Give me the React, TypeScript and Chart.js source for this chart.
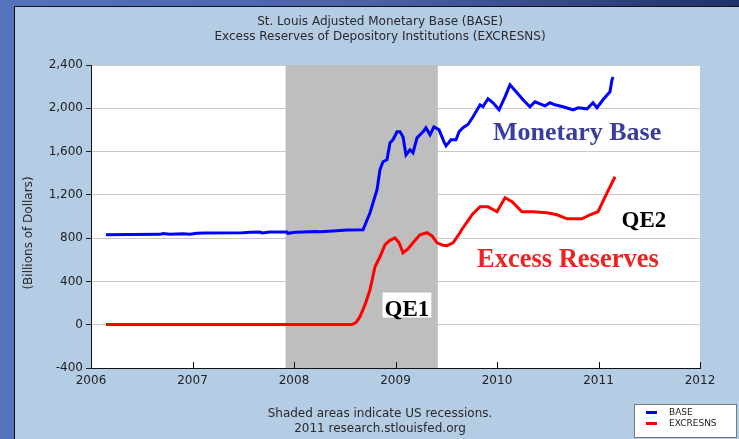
import React, { useEffect, useRef } from "react";
import { Chart, registerables } from "chart.js";

Chart.register(...registerables);

const titleLines = [
  "St. Louis Adjusted Monetary Base (BASE)",
  "Excess Reserves of Depository Institutions (EXCRESNS)",
];
const footerLines = ["Shaded areas indicate US recessions.", "2011 research.stlouisfed.org"];
const yAxisTitle = "(Billions of Dollars)";
const xTicks = [2006, 2007, 2008, 2009, 2010, 2011, 2012];
const yTicks = [-400, 0, 400, 800, 1200, 1600, 2000, 2400];
const recession = [2007.917, 2009.417];

const baseDates = [
  2006.148, 2006.384, 2006.68, 2006.709, 2006.778, 2006.906, 2006.975, 2007.044, 2007.123,
  2007.498, 2007.567, 2007.665, 2007.685, 2007.764, 2007.931, 2007.941, 2008.01, 2008.227,
  2008.256, 2008.384, 2008.522, 2008.68, 2008.749, 2008.818, 2008.847, 2008.877, 2008.916,
  2008.946, 2008.975, 2009.015, 2009.044, 2009.074, 2009.103, 2009.143, 2009.172, 2009.212,
  2009.271, 2009.3, 2009.34, 2009.379, 2009.429, 2009.478, 2009.498, 2009.547, 2009.596,
  2009.626, 2009.665, 2009.714, 2009.764, 2009.833, 2009.862, 2009.911, 2009.961, 2010.02,
  2010.079, 2010.128, 2010.197, 2010.256, 2010.325, 2010.374, 2010.473, 2010.522, 2010.571,
  2010.65, 2010.749, 2010.798, 2010.887, 2010.946, 2010.985, 2011.044, 2011.113, 2011.133,
  2011.143,
];
const baseValues = [
  832, 833, 835, 842, 835, 840, 836, 845, 848,
  850, 855, 856, 848, 856, 856, 845, 855, 862,
  858, 865, 875, 878, 1035, 1247, 1432, 1506, 1524,
  1681, 1709, 1783, 1783, 1737, 1570, 1617, 1589, 1727,
  1783, 1820, 1755, 1829, 1801, 1690, 1653, 1709, 1709,
  1783, 1820, 1850, 1922, 2032, 2014, 2088, 2051, 1986,
  2106, 2217, 2143, 2079, 2014, 2060, 2023, 2051, 2032,
  2014, 1986, 2005, 1995, 2051, 2005, 2079, 2152, 2263,
  2290,
];

const excDates = [
  2006.148, 2008.571, 2008.611, 2008.65, 2008.7, 2008.749, 2008.798, 2008.847, 2008.897,
  2008.946, 2008.995, 2009.034, 2009.074, 2009.123, 2009.172, 2009.241, 2009.31, 2009.36,
  2009.409, 2009.468, 2009.507, 2009.567, 2009.635, 2009.665, 2009.734, 2009.754, 2009.833,
  2009.911, 2010.0, 2010.079, 2010.148, 2010.246, 2010.355, 2010.493, 2010.591, 2010.69,
  2010.837, 2010.916, 2010.995, 2011.084, 2011.163,
];
const excValues = [
  2, 2, 20, 74, 185, 323, 536, 628, 739,
  780, 803, 760, 665, 700, 757, 831, 850, 820,
  757, 735, 730, 757, 850, 896, 988, 1016, 1090,
  1090, 1044, 1173, 1136, 1044, 1044, 1035, 1016, 979,
  979, 1016, 1044, 1219, 1367,
];

const seriesNames = ["BASE", "EXCRESNS"];
const seriesColors = ["#0000ff", "#ff0000"];

const annotations = [
  { text: "Monetary Base", x: 2009.961, y: 1709, color: "#3a3d9c", size: 26 },
  { text: "Excess Reserves", x: 2009.803, y: 535, color: "#ee2222", size: 26.5 },
  { text: "QE2", x: 2011.227, y: 900, color: "#000000", size: 23 },
  { text: "QE1", x: 2008.892, y: 85, color: "#000000", size: 23, box: true },
];

const SANS = "'DejaVu Sans', Verdana, sans-serif";
const SERIF = "'Liberation Serif', 'Times New Roman', serif";

const framePlugin = {
  id: "frame",
  beforeDraw(chart: any) {
    const ctx = chart.ctx;
    const W = chart.width;
    const H = chart.height;
    ctx.save();
    const g = ctx.createLinearGradient(0, 0, W, 0);
    g.addColorStop(0, "#5572bd");
    g.addColorStop(0.5, "#4a62a8");
    g.addColorStop(1, "#22306a");
    ctx.fillStyle = "#5572bd";
    ctx.fillRect(0, 0, W, H);
    ctx.fillStyle = g;
    ctx.fillRect(0, 0, W, 7);
    ctx.fillStyle = "#111";
    ctx.fillRect(14, 6, W - 14, H - 6);
    ctx.fillStyle = "#b4cce4";
    ctx.fillRect(15, 7, W - 15, H - 7);
    const a = chart.chartArea;
    ctx.fillStyle = "#ffffff";
    ctx.fillRect(a.left, a.top, a.right - a.left, a.bottom - a.top);

    ctx.fillStyle = "#2a2a2a";
    ctx.font = `12px ${SANS}`;
    ctx.textAlign = "center";
    ctx.textBaseline = "middle";
    ctx.fillText(titleLines[0], 380, 22);
    ctx.fillText(titleLines[1], 380, 37);
    ctx.fillText(footerLines[0], 380, 414);
    ctx.fillText(footerLines[1], 380, 429);

    ctx.save();
    ctx.translate(29, 233);
    ctx.rotate(-Math.PI / 2);
    ctx.fillText(yAxisTitle, 0, 0);
    ctx.restore();

    // legend
    ctx.fillStyle = "#ffffff";
    ctx.fillRect(634, 404, 102, 33);
    ctx.strokeStyle = "#777";
    ctx.lineWidth = 1;
    ctx.strokeRect(634.5, 404.5, 102, 33);
    ctx.font = `9px ${SANS}`;
    ctx.textAlign = "left";
    seriesNames.forEach((n, i) => {
      const yy = 412 + i * 11;
      ctx.fillStyle = seriesColors[i];
      ctx.fillRect(646, yy - 1, 11, 3);
      ctx.fillStyle = "#222";
      ctx.fillText(n, 669, yy + 0.5);
    });
    ctx.restore();
  },
  beforeDatasetsDraw(chart: any) {
    const ctx = chart.ctx;
    const a = chart.chartArea;
    const xs = chart.scales.x;
    ctx.save();
    const x0 = xs.getPixelForValue(recession[0]);
    const x1 = xs.getPixelForValue(recession[1]);
    ctx.fillStyle = "#bebebe";
    ctx.fillRect(x0, a.top, x1 - x0, a.bottom - a.top);
    ctx.strokeStyle = "#111";
    ctx.lineWidth = 1;
    xTicks.forEach((t) => {
      const px = Math.round(xs.getPixelForValue(t)) + 0.5;
      ctx.beginPath();
      ctx.moveTo(px, a.bottom);
      ctx.lineTo(px, a.bottom - 6);
      ctx.stroke();
    });
    ctx.restore();
  },
  afterDatasetsDraw(chart: any) {
    const ctx = chart.ctx;
    const xs = chart.scales.x;
    const ys = chart.scales.y;
    ctx.save();
    ctx.textAlign = "left";
    ctx.textBaseline = "alphabetic";
    annotations.forEach((an) => {
      ctx.font = `bold ${an.size}px ${SERIF}`;
      const px = xs.getPixelForValue(an.x);
      const py = ys.getPixelForValue(an.y);
      if (an.box) {
        const w = ctx.measureText(an.text).width;
        ctx.fillStyle = "#ffffff";
        ctx.fillRect(px - 2, py - 23, w + 4, 25);
      }
      ctx.fillStyle = an.color;
      ctx.fillText(an.text, px, py);
    });
    ctx.restore();
  },
};

export default function App() {
  const ref = useRef<HTMLCanvasElement | null>(null);
  useEffect(() => {
    document.body.style.margin = "0";
    const canvas = ref.current!;
    const chart = new Chart(canvas, {
      type: "line",
      data: {
        datasets: [
          {
            label: seriesNames[0],
            data: baseDates.map((d, i) => ({ x: d, y: baseValues[i] })),
            borderColor: seriesColors[0],
            borderWidth: 3,
            pointRadius: 0,
            tension: 0,
            fill: false,
          },
          {
            label: seriesNames[1],
            data: excDates.map((d, i) => ({ x: d, y: excValues[i] })),
            borderColor: seriesColors[1],
            borderWidth: 3,
            pointRadius: 0,
            tension: 0,
            fill: false,
          },
        ],
      },
      options: {
        animation: false,
        responsive: false,
        devicePixelRatio: 1,
        layout: { padding: { top: 65, right: 39, left: 0, bottom: 0 } },
        plugins: { legend: { display: false }, tooltip: { enabled: false } },
        scales: {
          x: {
            type: "linear",
            min: xTicks[0],
            max: xTicks[xTicks.length - 1],
            afterBuildTicks: (s: any) => {
              s.ticks = xTicks.map((v) => ({ value: v }));
            },
            afterFit: (s: any) => {
              s.height = 71;
            },
            ticks: {
              callback: (v: any) => String(v),
              color: "#222",
              font: { family: SANS, size: 12 },
              padding: 6,
              maxRotation: 0,
              autoSkip: false,
            },
            grid: { display: false, drawTicks: false },
            border: { display: true, color: "#111", width: 1 },
          },
          y: {
            type: "linear",
            min: yTicks[0],
            max: yTicks[yTicks.length - 1],
            afterBuildTicks: (s: any) => {
              s.ticks = yTicks.map((v) => ({ value: v }));
            },
            afterFit: (s: any) => {
              s.width = 91;
            },
            ticks: {
              callback: (v: any) => Number(v).toLocaleString("en-US"),
              color: "#222",
              font: { family: SANS, size: 12 },
              padding: 3,
              autoSkip: false,
            },
            grid: {
              color: "#c8c8c8",
              lineWidth: 1,
              drawTicks: true,
              tickLength: 5,
              tickColor: "#222",
            },
            border: { display: true, color: "#111", width: 1 },
          },
        },
      },
      plugins: [framePlugin],
    });
    return () => chart.destroy();
  }, []);
  return <canvas ref={ref} width={739} height={439} style={{ display: "block" }} />;
}
